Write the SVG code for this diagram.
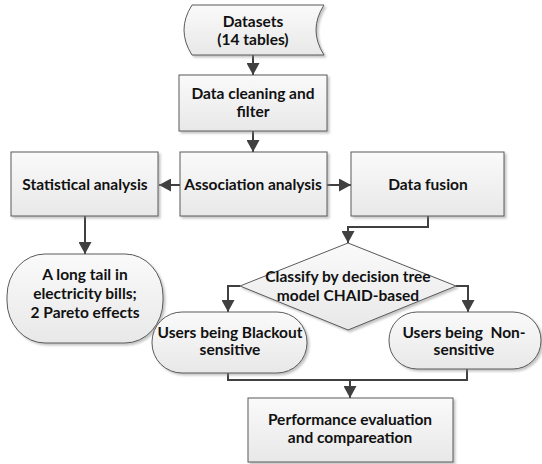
<svg xmlns="http://www.w3.org/2000/svg" width="542" height="464" viewBox="0 0 542 464">
<defs>
<linearGradient id="g" x1="0" y1="0" x2="0" y2="1">
<stop offset="0" stop-color="#fafafa"/>
<stop offset="1" stop-color="#e8e8e8"/>
</linearGradient>
<filter id="sh" x="-10%" y="-10%" width="130%" height="130%">
<feDropShadow dx="2" dy="2" stdDeviation="1" flood-color="#888" flood-opacity="0.5"/>
</filter>
<marker id="ah" markerUnits="userSpaceOnUse" markerWidth="13" markerHeight="13" refX="12" refY="6.5" orient="auto">
<path d="M0,0 L12,6.5 L0,13 z" fill="#404040"/>
</marker>
</defs>
<style>
.n{fill:url(#g);stroke:#5a5a5a;stroke-width:1;filter:url(#sh)}
.t{font-family:Lato,"Open Sans",sans-serif;font-weight:bold;font-size:15.5px;fill:#111;text-anchor:middle}
.c{fill:none;stroke:#404040;stroke-width:2}
.a{marker-end:url(#ah)}
</style>
<g id="connectors">
<path class="c a" d="M253,55 V75"/>
<path class="c a" d="M253,131 V152"/>
<path class="c a" d="M180,185 H159"/>
<path class="c a" d="M327,185 H351"/>
<path class="c a" d="M85,216 V254"/>
<path class="c a" d="M428,216 V227 H348 V243"/>
<path class="c a" d="M240,286 H228 V312"/>
<path class="c a" d="M456,286 H468 V312"/>
<path class="c" d="M228,373 V380 H467 V369"/>
<path class="c a" d="M350,380 V398"/>
</g>
<g id="datasets">
<path class="n" d="M192,5 L324,5 Q308,30 324,55 L192,55 Q176,30 192,5 Z"/>
<text class="t" x="253" y="27">Datasets</text>
<text class="t" x="253" y="45">(14 tables)</text>
</g>
<g id="cleaning">
<rect class="n" x="179" y="75" width="148" height="56"/>
<text class="t" x="253" y="99">Data cleaning and</text>
<text class="t" x="253" y="117">filter</text>
</g>
<g id="statistical">
<rect class="n" x="11" y="152" width="147" height="64"/>
<text class="t" x="85" y="190">Statistical analysis</text>
</g>
<g id="association">
<rect class="n" x="180" y="152" width="147" height="64"/>
<text class="t" x="253" y="190">Association analysis</text>
</g>
<g id="fusion">
<rect class="n" x="351" y="152" width="153" height="64"/>
<text class="t" x="428" y="190">Data fusion</text>
</g>
<g id="longtail">
<rect class="n" x="7" y="254" width="156" height="89" rx="38" ry="42"/>
<text class="t" x="85" y="280">A long tail in</text>
<text class="t" x="85" y="299">electricity bills;</text>
<text class="t" x="85" y="318">2 Pareto effects</text>
</g>
<g id="classify">
<polygon class="n" points="348,243 456,286 348,330 240,286"/>
<text class="t" x="348" y="282">Classify by decision tree</text>
<text class="t" x="348" y="301">model CHAID-based</text>
</g>
<g id="blackout">
<rect class="n" x="152" y="312" width="155" height="61" rx="30" ry="30"/>
<text class="t" x="230" y="338">Users being Blackout</text>
<text class="t" x="230" y="355">sensitive</text>
</g>
<g id="nonsensitive">
<rect class="n" x="389" y="312" width="152" height="57" rx="28" ry="28"/>
<text class="t" x="464" y="338" xml:space="preserve">Users being  Non-</text>
<text class="t" x="464" y="355">sensitive</text>
</g>
<g id="performance">
<rect class="n" x="248" y="398" width="205" height="64"/>
<text class="t" x="350" y="425">Performance evaluation</text>
<text class="t" x="350" y="443">and compareation</text>
</g>
</svg>
